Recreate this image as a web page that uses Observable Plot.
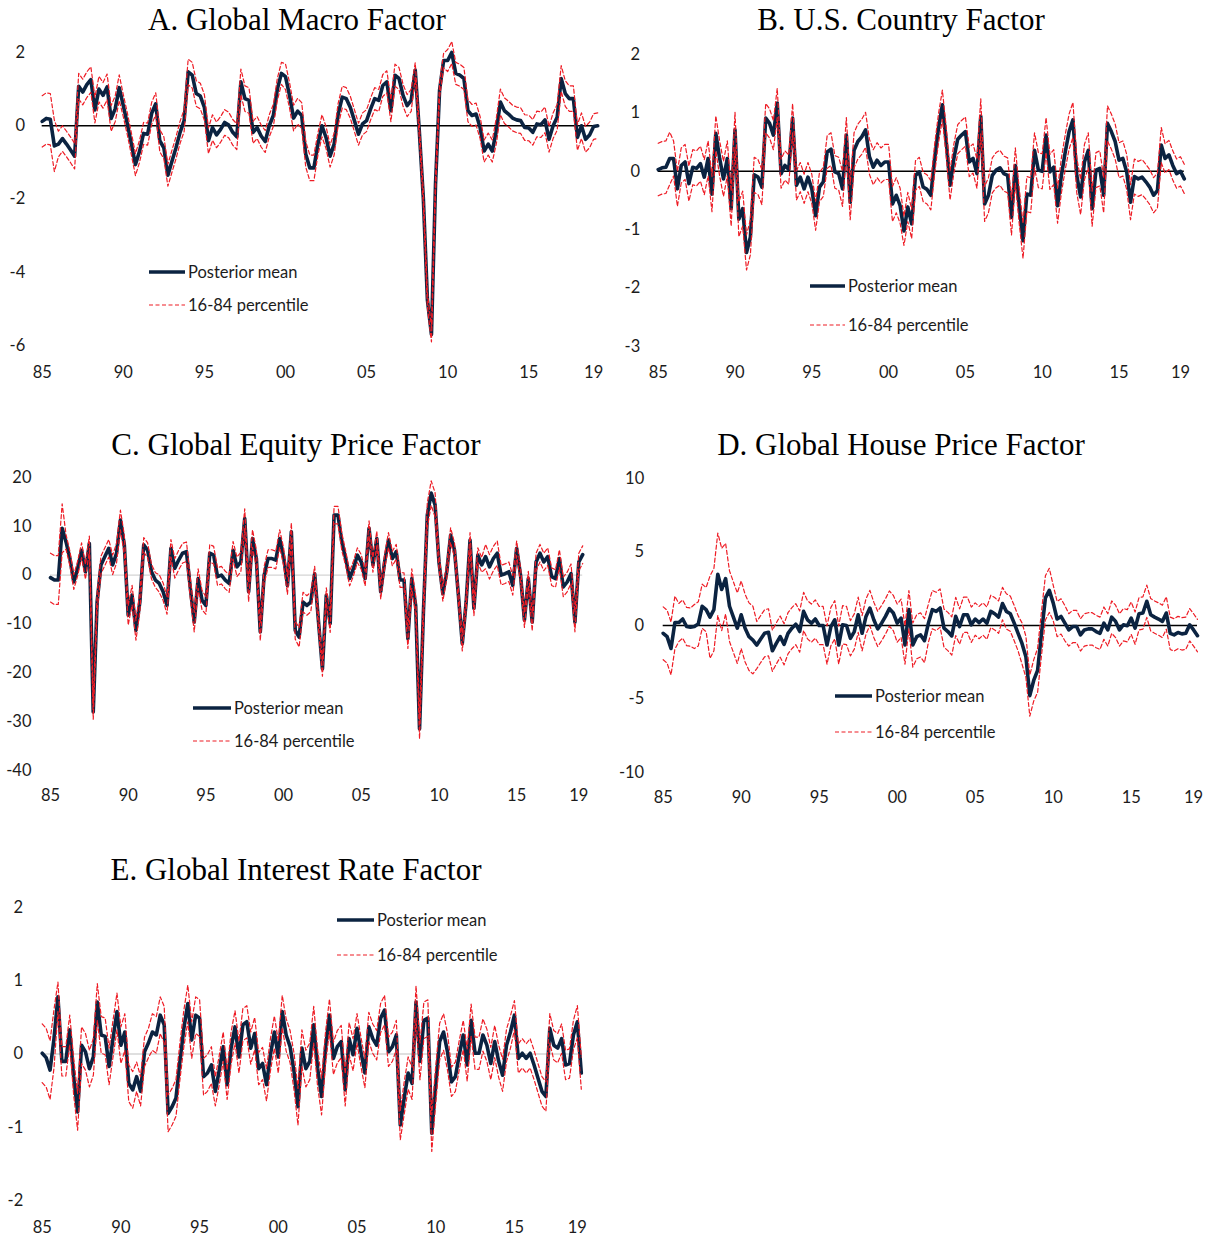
<!DOCTYPE html>
<html><head><meta charset="utf-8">
<script src="https://cdn.jsdelivr.net/npm/d3@7"></script>
<script src="https://cdn.jsdelivr.net/npm/@observablehq/plot@0.6"></script>
<style>
html,body{margin:0;padding:0;background:#fff;}
#page{position:relative;width:1211px;height:1236px;overflow:hidden;background:#fff;}
#overlay{position:absolute;left:0;top:0;pointer-events:none;}
</style></head><body><div id="page"></div>
<script>
// ---------- data (quarterly, starting 1985Q1) ----------
const startYear = 1985;
const xTicks = [1985, 1990, 1995, 2000, 2005, 2010, 2015, 2019];
const seriesNames = ["Posterior mean", "16-84 percentile"];

const titleA = "A. Global Macro Factor";
const meanA = [
 0.12,0.2,0.18,-0.55, -0.5,-0.35,-0.5,-0.66, -0.83,1.08,0.92,1.12, 1.26,0.43,1.0,0.83,
 1.06,0.2,0.46,1.04, 0.55,0.05,-0.5,-1.06, -0.7,-0.21,-0.23,0.34, 0.6,-0.41,-0.6,-1.35,
 -0.97,-0.6,-0.18,0.14, 1.47,1.38,0.88,0.81, 0.5,-0.41,-0.05,-0.25, -0.1,0.09,0.02,-0.18,
 -0.3,1.2,0.74,0.69, -0.18,-0.05,-0.28,-0.43, 0.0,0.28,1.0,1.43, 1.34,0.83,0.21,0.4,
 0.28,-0.78,-1.15,-1.15, -0.5,0.0,-0.32,-0.83, -0.5,0.32,0.78,0.74, 0.5,0.14,-0.23,0.05,
 0.14,0.46,0.74,0.69, 1.1,1.2,0.41,1.38, 1.29,0.83,0.55,0.69, 1.52,-0.14,-1.98,-4.75,
 -5.7,-1.6,0.97,1.78, 1.78,2.0,1.43,1.38, 1.29,0.41,0.28,0.32, -0.05,-0.69,-0.5,-0.69,
 -0.14,0.65,0.41,0.32, 0.21,0.16,0.14,-0.05, -0.06,-0.18,0.05,0.03, 0.16,-0.37,0.0,0.23,
 1.29,0.88,0.74,0.74, -0.32,0.0,-0.37,-0.25, -0.02,0.0];
// half-width of the 16-84 band, one value per year 1985..2019
const spreadA = [0.7,0.35,0.35,0.35,0.35,0.3,0.3,0.3,0.3,0.35,0.35,0.35,0.35,0.3,0.3,0.35,0.35,0.3,0.3,0.3,0.3,0.3,0.3,0.2,0.2,0.3,0.3,0.3,0.35,0.35,0.35,0.35,0.35,0.35,0.35];
const yTicksA = [-6, -4, -2, 0, 2];

const titleB = "B. U.S. Country Factor";
const meanB = [
 0.03,0.06,0.07,0.22, 0.22,-0.3,0.1,0.16, -0.21,0.07,0.05,0.13, -0.1,0.22,-0.39,0.65,
 0.22,-0.13,0.22,-0.64, 0.71,-0.82,-0.64,-1.39, -1.13,-0.06,-0.1,-0.27, 0.91,0.82,0.62,1.17,
 -0.04,0.1,0.03,0.91, -0.24,-0.1,-0.3,-0.1, -0.3,-0.76,-0.27,-0.18, 0.33,0.38,-0.01,-0.04,
 -0.3,0.62,-0.53,0.36, 0.51,0.59,0.71,0.25, 0.07,0.19,0.1,0.16, 0.16,-0.56,-0.41,-0.59,
 -1.02,-0.61,-0.9,-0.07, -0.01,-0.27,-0.31,-0.41, 0.22,0.74,1.14,0.51, -0.24,0.22,0.55,0.62,
 0.68,0.16,0.22,-0.04, 0.94,-0.56,-0.41,-0.07, 0.02,0.06,-0.04,-0.07, -0.79,0.1,-0.59,-1.19,
 -0.39,-0.41,0.36,0.02, 0,0.62,-0.01,0.07, -0.59,-0.07,0.33,0.68, 0.88,-0.07,-0.44,0.16,
 0.36,-0.64,0.02,0.05, -0.41,0.82,0.68,0.51, 0.19,0.22,-0.01,-0.53, -0.09,-0.13,-0.1,-0.18,
 -0.27,-0.41,-0.33,0.45, 0.22,0.28,0.1,-0.04, 0,-0.13];
const spreadB = [0.45,0.3,0.3,0.3,0.3,0.3,0.3,0.25,0.25,0.25,0.25,0.28,0.3,0.3,0.3,0.3,0.25,0.25,0.25,0.25,0.25,0.3,0.3,0.3,0.3,0.3,0.3,0.3,0.3,0.3,0.3,0.3,0.3,0.25,0.25];
const yTicksB = [-3, -2, -1, 0, 1, 2];

const titleC = "C. Global Equity Price Factor";
const meanC = [
 -0.5,-1.0,-1.0,9.6, 6.8,3.4,-1.4,1.4, 5.1,0.7,6.5,-28, -5.5,2.1,3.8,5.5,
 2.1,4.5,11.3,6.2, -8.2,-4.1,-11.3,-5.5, 6.2,5.1,0.7,-1.0, -1.7,-3.4,-6.2,5.5,
 1.4,3.1,4.5,4.8, -2.7,-9.6,-0.7,-5.1, -6.2,4.5,4.1,-0.3, 0,-1.0,-1.7,5.1,
 1.7,2.7,11.6,-3.4, 7.5,3.4,-11.6,0, 3.4,3.4,3.1,7.5, 3.8,-2.1,8.9,-11.3,
 -12.7,-5.5,-6.2,-5.5, 0.3,-9.6,-19.2,-4.1, -9.9,12.3,12.3,6.8, 3.4,-0.7,1.4,4.1,
 2.7,-0.7,9.6,2.1, 7.5,-3.4,2.7,7.2, 3.4,4.8,-1.0,-1.0, -13.0,-0.7,-6.2,-31.5,
 -7.5,12.3,16.8,14.4, 2.7,-3.8,0.7,8.2, 5.1,-4.1,-14.0,-5.5, 7.2,-6.8,4.1,2.1,
 3.8,1.7,3.4,4.5, 0,0.3,0.7,-2.1, 5.5,0,-9.2,-0.7, -9.6,2.7,4.5,2.7,
 3.8,-0.3,-0.7,3.4, -2.4,-1.4,0.3,-9.6, 2.7,4.2];
const spreadC = [5,1.5,1.5,1.8,2,2,1.5,1.8,2,2,1.8,1.8,2,1.8,1.8,1.8,2,1.5,1.8,1.5,1.5,1.5,1.5,2,2.5,1.5,1.5,1.5,2.5,2,1.5,1.8,1.8,2,1.8];
const yTicksC = [-40, -30, -20, -10, 0, 10, 20];

const titleD = "D. Global House Price Factor";
const meanD = [
 -0.53,-0.76,-1.56,0.2, 0.2,0.44,-0.07,-0.11, -0.07,0.11,1.31,1.08, 0.57,1.08,3.49,2.45,
 3.19,1.31,0.57,-0.18, 0.73,-0.18,-0.76,-0.99, -1.33,-0.92,-0.53,-0.46, -1.72,-1.22,-0.76,-1.28,
 -0.53,-0.18,0.09,-0.41, 0.96,0.39,0.16,0.44, 0,0,-1.33,-0.07, 0.39,-1.33,0.05,0,
 -0.87,-0.41,0.73,-0.53, 0.62,1.19,0.39,-0.23, 0.16,0.62,1.15,0.85, 0.16,0.5,-1.33,1.08,
 -1.33,-0.76,-0.64,-1.03, 0.16,1.08,0.96,1.19, -0.18,-0.41,-0.71,0.62, -0.07,0.73,0.73,0.05,
 0.44,0.2,0.44,0.16, 0.96,0.8,0.57,1.49, 0.96,0.8,0.16,-0.53, -1.22,-2.13,-4.77,-3.74,
 -3.05,-0.53,1.88,2.39, 1.54,0.44,0.62,0.16, -0.3,-0.07,-0.07,-0.64, -0.3,-0.23,-0.23,-0.41,
 -0.53,0.16,-0.3,0.57, 0.28,-0.3,0.05,-0.02, 0.5,-0.18,0.8,0.85, 1.65,0.73,0.57,0.44,
 0.28,0.85,-0.53,-0.64, -0.48,-0.57,-0.53,0.05, -0.3,-0.69];
const spreadD = [1.8,1.3,1.5,2.8,2.4,2.3,1.6,1.4,1.4,1.3,1.3,1.3,1.2,1.2,1.2,1.3,1.5,1.3,1.3,1.2,1.1,1.1,1.2,1.4,1.5,1.2,1.1,1.1,1.1,1.1,1.1,1.1,1.1,1.1,1.1];
const yTicksD = [-10, -5, 0, 5, 10];

const titleE = "E. Global Interest Rate Factor";
const meanE = [
 0.01,-0.05,-0.22,0.21, 0.78,-0.1,-0.1,0.33, -0.31,-0.79,0.12,0.03, -0.2,-0.04,0.71,0.26,
 0.24,-0.17,0.21,0.58, 0.12,0.3,-0.4,-0.49, -0.31,-0.51,0.03,0.15, 0.3,0.26,0.53,0.4,
 -0.81,-0.72,-0.6,-0.1, 0.35,0.69,0.19,0.53, 0.49,-0.31,-0.26,-0.15, -0.51,-0.22,0.1,-0.42,
 0.08,0.37,-0.04,0.4, 0.44,0.08,0.28,-0.2, -0.13,-0.42,-0.01,0.3, -0.04,0.58,0.26,0.1,
 -0.24,-0.72,0.08,-0.2, -0.1,0.4,-0.2,-0.58, 0.08,0.53,-0.06,0.1, 0.17,-0.49,0.21,-0.01,
 0.35,0.03,-0.26,0.37, 0.21,0.12,0.49,0.6, 0.03,0.1,0.26,-0.97, -0.6,-0.26,-0.4,0.71,
 -0.1,0.46,0.49,-1.08, -0.42,0.17,0.3,0.03, -0.38,-0.31,-0.01,0.26, -0.15,0.46,0.01,0.01,
 0.26,0.12,-0.13,0.17, -0.1,-0.29,0.12,0.3, 0.53,-0.06,0.01,-0.06, 0.01,-0.15,-0.33,-0.51,
 -0.58,0.35,0.12,0.08, 0.21,-0.15,-0.13,0.26, 0.44,-0.26];
const spreadE = [0.4,0.2,0.25,0.25,0.25,0.25,0.2,0.25,0.25,0.25,0.25,0.2,0.22,0.22,0.22,0.22,0.25,0.25,0.22,0.22,0.2,0.2,0.2,0.22,0.25,0.25,0.2,0.22,0.22,0.22,0.2,0.2,0.2,0.2,0.22];
const yTicksE = [-2, -1, 0, 1, 2];

// ---------- styling / layout ----------
const NAVY = "#0b2341";
const RED = "#ee1c25";
const FONT = "Lato, 'Noto Sans', sans-serif";
const TITLE_FONT = "'Liberation Serif', 'DejaVu Serif', serif";

const panels = [
  {title: titleA, mean: meanA, spread: spreadA, yTicks: yTicksA, left: 0, top: 40, width: 605, height: 350,
   mL: 41.7, mR: 7.8, mT: 12, mB: 45, xPad: 21, yPad: 17, zero: "#000",
   titleX: 297, titleY: 30, leg: {x0: 149, x1: 185, y1: 272, y2: 305}},
  {title: titleB, mean: meanB, spread: spreadB, yTicks: yTicksB, left: 605, top: 40, width: 606, height: 350,
   mL: 52.7, mR: 27.2, mT: 14, mB: 44, xPad: 20, yPad: 18, zero: "#000",
   titleX: 901, titleY: 30, leg: {x0: 810, x1: 845, y1: 286, y2: 325}},
  {title: titleC, mean: meanC, spread: spreadC, yTicks: yTicksC, left: 0, top: 465, width: 605, height: 350,
   mL: 50, mR: 22.8, mT: 12, mB: 45, xPad: 19, yPad: 19, zero: "#d4d4d4",
   titleX: 296, titleY: 455, leg: {x0: 193, x1: 231, y1: 708, y2: 741}},
  {title: titleD, mean: meanD, spread: spreadD, yTicks: yTicksD, left: 605, top: 465, width: 606, height: 350,
   mL: 57.7, mR: 14, mT: 13, mB: 43, xPad: 19, yPad: 19, zero: "#000",
   titleX: 901, titleY: 455, leg: {x0: 835, x1: 872, y1: 696, y2: 732}},
  {title: titleE, mean: meanE, spread: spreadE, yTicks: yTicksE, left: 0, top: 890, width: 605, height: 346,
   mL: 41.7, mR: 24.2, mT: 17, mB: 36, xPad: 21, yPad: 19, zero: "#d4d4d4",
   titleX: 296, titleY: 880, leg: {x0: 337, x1: 374, y1: 920, y2: 955}}
];

const page = document.getElementById("page");
const yearFmt = d => String(d % 100).padStart(2, "0");

for (const p of panels) {
  const rows = p.mean.map((v, i) => {
    const s = p.spread[Math.floor(i / 4)];
    return {t: startYear + i / 4, mean: v, lo: v - s, hi: v + s};
  });
  const lastT = startYear + (p.mean.length - 1) / 4;
  const chart = Plot.plot({
    width: p.width, height: p.height,
    marginLeft: p.mL, marginRight: p.mR, marginTop: p.mT, marginBottom: p.mB,
    style: {fontFamily: FONT, fontSize: "16.5px", color: "#1c1c1c", background: "transparent", overflow: "visible"},
    x: {domain: [startYear, lastT], ticks: xTicks, tickFormat: yearFmt, tickSize: 0, tickPadding: p.xPad, label: null},
    y: {domain: [p.yTicks[0], p.yTicks[p.yTicks.length - 1]], ticks: p.yTicks, tickFormat: d => String(d), tickSize: 0, tickPadding: p.yPad, label: null},
    marks: [
      Plot.ruleY([0], {stroke: p.zero, strokeWidth: 1.4}),
      Plot.line(rows, {x: "t", y: "mean", stroke: NAVY, strokeWidth: 3.6, strokeLinejoin: "round"}),
      Plot.line(rows, {x: "t", y: "hi", stroke: RED, strokeWidth: 1.2, strokeDasharray: "4,2.5"}),
      Plot.line(rows, {x: "t", y: "lo", stroke: RED, strokeWidth: 1.2, strokeDasharray: "4,2.5"})
    ]
  });
  chart.style.position = "absolute";
  chart.style.left = p.left + "px";
  chart.style.top = p.top + "px";
  page.appendChild(chart);
}

// ---------- titles and legends (overlay) ----------
const ns = "http://www.w3.org/2000/svg";
const ov = document.createElementNS(ns, "svg");
ov.setAttribute("id", "overlay");
ov.setAttribute("width", 1211);
ov.setAttribute("height", 1236);
function el(tag, attrs, text) {
  const e = document.createElementNS(ns, tag);
  for (const k in attrs) e.setAttribute(k, attrs[k]);
  if (text != null) e.textContent = text;
  ov.appendChild(e);
  return e;
}
for (const p of panels) {
  el("text", {x: p.titleX, y: p.titleY, "text-anchor": "middle", "font-family": TITLE_FONT, "font-size": 31, fill: "#000"}, p.title);
  const L = p.leg;
  el("line", {x1: L.x0, x2: L.x1, y1: L.y1, y2: L.y1, stroke: NAVY, "stroke-width": 3.6});
  el("line", {x1: L.x0, x2: L.x1, y1: L.y2, y2: L.y2, stroke: RED, "stroke-width": 1.2, "stroke-dasharray": "4,2.5"});
  el("text", {x: L.x1 + 3, y: L.y1, "dominant-baseline": "central", "font-family": FONT, "font-size": 16.5, fill: "#1c1c1c"}, seriesNames[0]);
  el("text", {x: L.x1 + 3, y: L.y2, "dominant-baseline": "central", "font-family": FONT, "font-size": 16.5, fill: "#1c1c1c"}, seriesNames[1]);
}
page.appendChild(ov);
</script>
</body></html>
